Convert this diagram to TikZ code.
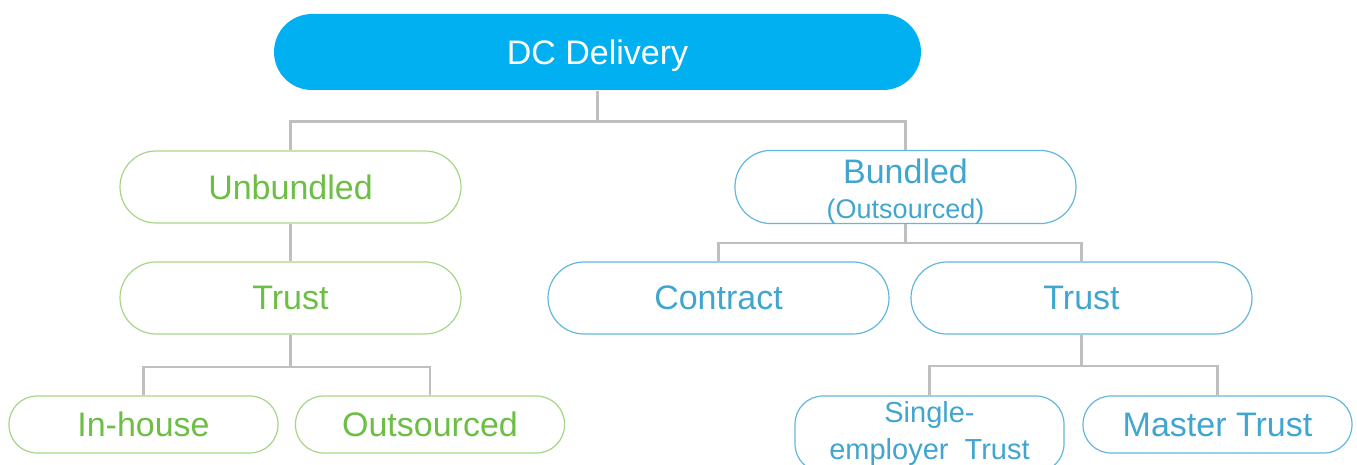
\documentclass[tikz,border=0pt]{standalone}
\usepackage{fontspec}
\setmainfont{Liberation Sans}
\usepackage{tikz}
\usetikzlibrary{positioning,calc}
\definecolor{dcblue}{HTML}{00B0F0}
\definecolor{leafgreen}{HTML}{6DBE45}
\definecolor{rimgreen}{HTML}{A6D685}
\definecolor{seablue}{HTML}{41A6CF}
\definecolor{rimblue}{HTML}{62B8DC}
\definecolor{linkgray}{HTML}{BFBFBF}

\begin{document}
\begin{tikzpicture}[x=0.5pt,y=-0.5pt,
  pill/.style={draw,fill=white,line width=0.6pt,inner sep=0pt,align=center,
    rounded corners=18pt,minimum width=170.5pt,minimum height=36pt,
    font=\fontsize{17}{17.5}\selectfont},
  smallpill/.style={pill,rounded corners=14pt,minimum width=134.5pt,minimum height=28.5pt},
  greenpill/.style={draw=rimgreen,text=leafgreen},
  bluepill/.style={draw=rimblue,text=seablue},
  link/.style={draw=linkgray,line width=1.1pt}]
  \useasboundingbox (0,0) rectangle (1357,465);

  % Top of the tree
  \node[pill,fill=dcblue,draw=none,text=white,rounded corners=19pt,text depth=0pt,
    minimum width=323.5pt,minimum height=38pt] (dc) at (597.5,52) {DC Delivery};

  % Second level
  \node[pill,greenpill] (unb) at (290.5,187) {Unbundled};
  \node[pill,bluepill] (bnd) at (905.5,187)
    {\rule{0pt}{16.3pt}Bundled\\{\fontsize{13.5}{17.5}\selectfont(Outsourced)}};

  % Third level
  \node[pill,greenpill] (gtrust) at (290.5,298) {Trust};
  \node[pill,bluepill] (ctr) at (718.5,298) {Contract};
  \node[pill,bluepill] (btrust) at (1081.5,298) {Trust};

  % Leaves
  \node[smallpill,greenpill] (inh) at (143.5,424.5) {In-house};
  \node[smallpill,greenpill] (outs) at (430,424.5) {Outsourced};
  \node[smallpill,bluepill,minimum height=38pt,
    font=\fontsize{14.5}{18.5}\selectfont] (single) at (929.5,434) {Single-\\employer\ \ Trust};
  \node[smallpill,bluepill] (master) at (1217.5,424.5) {Master Trust};

  % Elbow connectors
  \foreach \a/\b/\d in {dc/unb/31, dc/bnd/31, bnd/ctr/19, bnd/btrust/19,
      gtrust/inh/32, gtrust/outs/32, btrust/single/31, btrust/master/31} {
    \draw[link] (\a.south) -- ++(0,\d) -| (\b.north);
  }
  \draw[link] (unb.south) -- (gtrust.north);
\end{tikzpicture}
\end{document}
